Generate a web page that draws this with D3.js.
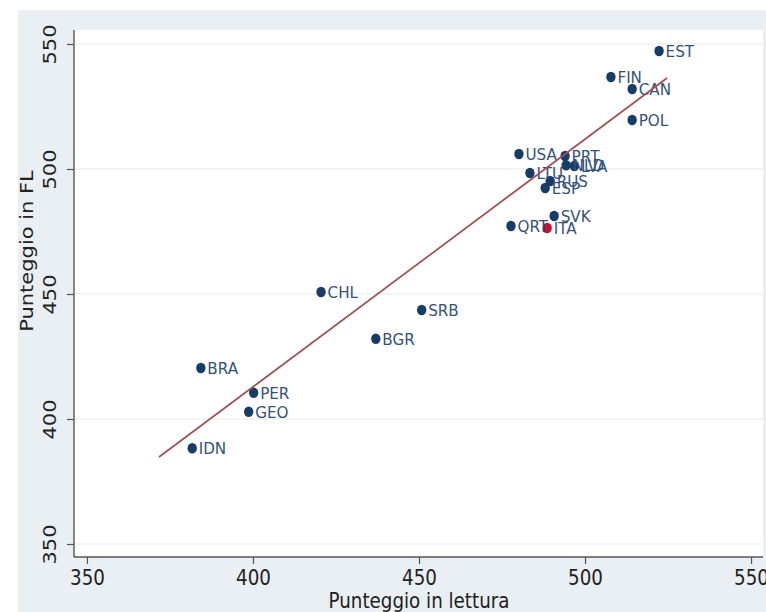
<!DOCTYPE html>
<html>
<head>
<meta charset="utf-8">
<script src="https://cdn.jsdelivr.net/npm/d3@7"></script>
<style>
  html, body { margin: 0; padding: 0; background: #fff; }
  text { font-family: "DejaVu Sans", sans-serif; }
</style>
</head>
<body>
<svg id="chart"></svg>
<script>
// values
const countries = ["EST", "FIN", "CAN", "POL", "USA", "PRT", "NLD", "LVA", "LTU", "RUS", "ESP",
                   "SVK", "QRT", "ITA", "CHL", "SRB", "BGR", "BRA", "PER", "GEO", "IDN"];
const lettura = [522.3, 507.8, 514.2, 514.2, 480.1, 494.0, 494.3, 496.8, 483.4, 489.5, 488.0,
                 490.7, 477.7, 488.6, 420.5, 450.8, 437.0, 384.3, 400.2, 398.7, 381.7];
const puntFL = [547.2, 536.8, 532.0, 519.6, 506.0, 505.2, 501.5, 501.2, 498.4, 495.2, 492.4,
                481.2, 477.2, 476.4, 450.8, 443.6, 432.1, 420.4, 410.5, 402.9, 388.3];
const highlighted = ["ITA"];

// linear fit end points
const fitX = [371.7, 524.7];
const fitY = [384.8, 536.4];

const xTicks = [350, 400, 450, 500, 550];
const yTicks = [350, 400, 450, 500, 550];

const W = 766, H = 612;
const plot = { left: 74, right: 763, top: 30, bottom: 557 };
const squeeze = 0.87;   // the picture is a bit narrower than tall

const svg = d3.select("#chart").attr("width", W).attr("height", H);

// outer background
svg.append("rect").attr("x", 18).attr("y", 10).attr("width", W - 18).attr("height", H - 10)
    .attr("fill", "#e9eff2");
svg.append("rect")
    .attr("x", plot.left).attr("y", plot.top)
    .attr("width", plot.right - plot.left).attr("height", plot.bottom - plot.top)
    .attr("fill", "#fff");

const x = d3.scaleLinear().domain([346.4, 553.6]).range([plot.left + 1, plot.right]);
const y = d3.scaleLinear().domain([344.8, 555.6]).range([plot.bottom, plot.top]);

// grid
svg.append("g")
    .selectAll("line")
    .data(yTicks)
    .enter()
    .append("line")
    .attr("x1", plot.left).attr("x2", plot.right)
    .attr("y1", d => y(d)).attr("y2", d => y(d))
    .attr("stroke", "#e8ebec")
    .attr("stroke-width", 1.2);

// x axis
const gx = svg.append("g")
    .attr("transform", `translate(0,${plot.bottom})`)
    .call(d3.axisBottom(x).tickValues(xTicks).tickSize(7).tickSizeOuter(0));
gx.select(".domain").remove();
gx.selectAll(".tick line").attr("stroke", "#555").attr("stroke-width", 1.2);
gx.selectAll(".tick text")
    .attr("y", 28).attr("dy", 0)
    .attr("font-size", 21)
    .attr("fill", "#222")
    .attr("transform", `scale(${squeeze},1)`);

// y axis
const gy = svg.append("g")
    .attr("transform", `translate(${plot.left},0)`)
    .call(d3.axisLeft(y).tickValues(yTicks).tickSize(7).tickSizeOuter(0));
gy.select(".domain").remove();
gy.selectAll(".tick line").attr("stroke", "#555").attr("stroke-width", 1.2);
gy.selectAll(".tick text")
    .attr("x", 0).attr("y", -21).attr("dy", 0)
    .attr("text-anchor", "middle")
    .attr("font-size", 21)
    .attr("fill", "#222")
    .attr("transform", `scale(${squeeze},1) rotate(-90)`);

// axis lines
svg.append("line")
    .attr("x1", plot.left).attr("x2", plot.right)
    .attr("y1", plot.bottom).attr("y2", plot.bottom)
    .attr("stroke", "#555").attr("stroke-width", 1.4);
svg.append("line")
    .attr("x1", plot.left).attr("x2", plot.left)
    .attr("y1", plot.top).attr("y2", plot.bottom)
    .attr("stroke", "#555").attr("stroke-width", 1.4);

// axis titles
svg.append("text")
    .attr("transform", `translate(419,608) scale(${squeeze},1)`)
    .attr("text-anchor", "middle")
    .attr("font-size", 21)
    .attr("fill", "#222")
    .text("Punteggio in lettura");

svg.append("text")
    .attr("transform", `translate(33,251) scale(${squeeze},1) rotate(-90)`)
    .attr("text-anchor", "middle")
    .attr("font-size", 21)
    .attr("fill", "#222")
    .text("Punteggio in FL");

// points
const data = countries.map((c, i) => ({ c, x: lettura[i], y: puntFL[i] }));

const pts = svg.append("g");
pts.selectAll("ellipse")
    .data(data)
    .enter()
    .append("ellipse")
    .attr("cx", d => x(d.x))
    .attr("cy", d => y(d.y))
    .attr("rx", 4.7)
    .attr("ry", 5.2)
    .attr("fill", d => highlighted.includes(d.c) ? "#c1123b" : "#173c66");

pts.selectAll("text")
    .data(data)
    .enter()
    .append("text")
    .attr("transform", d => `translate(${x(d.x) + 6.5},${y(d.y) + 6}) scale(0.92,1)`)
    .attr("font-size", 16.5)
    .attr("fill", "#34527a")
    .text(d => d.c);

// fitted line
svg.append("line")
    .attr("x1", x(fitX[0])).attr("y1", y(fitY[0]))
    .attr("x2", x(fitX[1])).attr("y2", y(fitY[1]))
    .attr("stroke", "#9e5052")
    .attr("stroke-width", 1.7);
</script>
</body>
</html>
